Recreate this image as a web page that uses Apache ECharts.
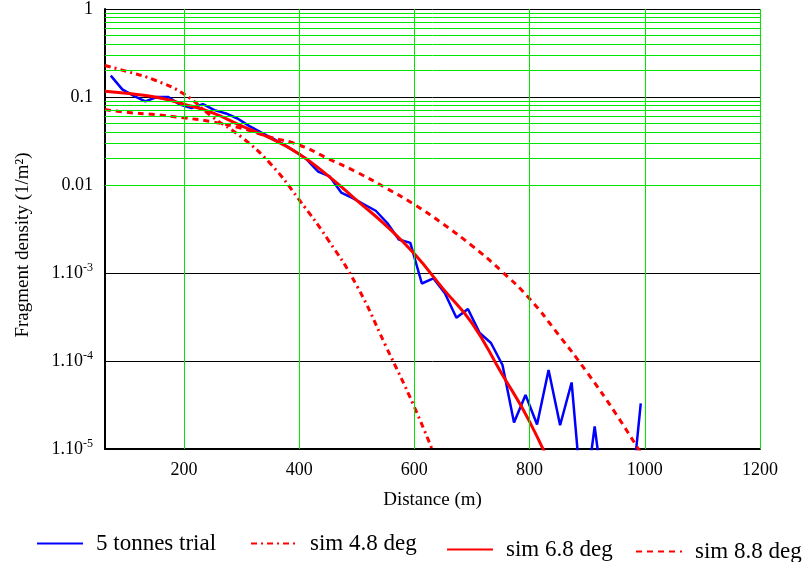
<!DOCTYPE html>
<html>
<head>
<meta charset="utf-8">
<script src="https://cdn.jsdelivr.net/npm/echarts@6/dist/echarts.min.js"></script>
<style>
  html, body { margin: 0; padding: 0; background: #fff; }
  #chart { width: 803px; height: 562px; }
</style>
</head>
<body>
<div id="chart"></div>
<script>
// measured trial (5 tonnes)
const trialX = [73, 93, 113, 133, 153, 173, 193, 213, 233, 253, 273, 293, 313, 333, 353, 373, 393, 413, 433, 453,
  473, 493, 513, 533, 553, 573, 593, 613, 633, 653, 673, 693, 713, 733, 753, 773, 793, 813, 833, 853,
  873, 893, 913, 933, 953, 973, 993];
const trialY = [0.175, 0.122, 0.103, 0.089, 0.1, 0.1, 0.082, 0.075, 0.083, 0.071, 0.065, 0.057, 0.047, 0.04, 0.034, 0.029, 0.024, 0.0196, 0.0142, 0.0125,
  0.0082, 0.0071, 0.006, 0.0051, 0.0037, 0.0024, 0.0022, 7.6e-4, 8.7e-4, 5.9e-4, 3.1e-4, 3.9e-4, 2.1e-4, 1.6e-4, 9.0e-5, 2.0e-5, 4.1e-5, 1.9e-5, 7.9e-5, 1.86e-5,
  5.7e-5, 1.8e-6, 1.8e-5, 1.8e-6, 1.8e-6, 1.6e-6, 3.3e-5];

// simulations
const sim48X = [63, 100, 150, 200, 250, 300, 350, 400, 450, 500, 550, 600, 640];
const sim48Y = [0.228, 0.196, 0.155, 0.108, 0.059, 0.035, 0.0175, 0.0068, 0.0024, 7.2e-4, 1.5e-4, 3.0e-5, 7e-6];

const sim68X = [63, 100, 150, 200, 250, 300, 350, 400, 450, 500, 550, 600, 650, 700, 750, 800, 850];
const sim68Y = [0.116, 0.11, 0.1, 0.083, 0.066, 0.047, 0.034, 0.0225, 0.0128, 0.0067, 0.0035, 0.00165, 6.6e-4, 2.7e-4, 7.5e-5, 2.05e-5, 4e-6];

const sim88X = [63, 100, 150, 200, 250, 300, 350, 400, 450, 500, 550, 600, 650, 700, 750, 800, 850, 900, 950, 1000];
const sim88Y = [0.072, 0.067, 0.063, 0.058, 0.052, 0.044, 0.035, 0.0285, 0.02, 0.014, 0.0093, 0.006, 0.0036, 0.00204, 0.00107, 5.1e-4, 2.0e-4, 7.4e-5, 2.5e-5, 7.6e-6];

const xTicks = [200, 400, 600, 800, 1000, 1200];
const yTickValues = [1e-5, 1e-4, 1e-3, 0.01, 0.1, 1];
const yTickText = ['1.10{sup|-5}', '1.10{sup|-4}', '1.10{sup|-3}', '0.01', '0.1', '1'];

const serif = 'Liberation Serif';

function pairs(xs, ys) {
  return xs.map((x, i) => [x, ys[i]]);
}

// minor grid lines 2..9 per decade
const minorLines = [];
for (let e = -5; e < 0; e++) {
  for (let m = 2; m <= 9; m++) {
    minorLines.push({ yAxis: m * Math.pow(10, e) });
  }
}
const vLines = xTicks.map(v => ({ xAxis: v }));

function legendAt(name, left, top) {
  return {
    data: [name],
    left: left,
    top: top,
    itemWidth: 46,
    itemHeight: 14,
    itemStyle: { opacity: 0 },
    textStyle: { fontFamily: serif, fontSize: 23, color: '#000', padding: [0, 0, 0, 8] }
  };
}

const chart = echarts.init(document.getElementById('chart'));
chart.setOption({
  animation: false,
  backgroundColor: '#fff',
  grid: { left: 105, right: 43, top: 9, bottom: 113, containLabel: false },
  legend: [
    legendAt('5 tonnes trial', 31, 527),
    legendAt('sim 4.8 deg', 245, 527),
    legendAt('sim 6.8 deg', 441, 533),
    legendAt('sim 8.8 deg', 630, 535)
  ],
  xAxis: {
    type: 'value',
    min: 63,
    max: 1200,
    name: 'Distance (m)',
    nameLocation: 'middle',
    nameGap: 42,
    nameTextStyle: { fontFamily: serif, fontSize: 19, color: '#000' },
    axisLine: { lineStyle: { color: '#000', width: 2 } },
    axisTick: { show: false },
    axisLabel: {
      customValues: xTicks,
      fontFamily: serif,
      fontSize: 18,
      color: '#000',
      margin: 12,
      formatter: v => String(v)
    },
    splitLine: { show: false }
  },
  yAxis: {
    type: 'log',
    logBase: 10,
    min: 1e-5,
    max: 1,
    name: 'Fragment density (1/m²)',
    nameLocation: 'middle',
    nameGap: 72,
    nameTextStyle: { fontFamily: serif, fontSize: 19, color: '#000', padding: [0, 32, 0, 0] },
    axisLine: { lineStyle: { color: '#000', width: 2 } },
    axisTick: { show: false },
    axisLabel: {
      fontFamily: serif,
      fontSize: 18,
      color: '#000',
      margin: 12,
      formatter: function (v) {
        for (let i = 0; i < yTickValues.length; i++) {
          if (Math.abs(Math.log10(v) - Math.log10(yTickValues[i])) < 1e-6) return yTickText[i];
        }
        return '';
      },
      rich: {
        sup: { fontFamily: serif, fontSize: 12, color: '#000', verticalAlign: 'bottom', padding: [0, 0, 10, 0] }
      }
    },
    splitLine: { show: true, lineStyle: { color: '#000', width: 1 } }
  },
  series: [
    {
      name: 'grid',
      type: 'line',
      data: [],
      z: 1,
      silent: true,
      markLine: {
        silent: true,
        symbol: 'none',
        label: { show: false },
        lineStyle: { color: '#00e600', width: 1, type: 'solid' },
        data: minorLines.concat(vLines)
      }
    },
    {
      name: '5 tonnes trial',
      type: 'line',
      data: pairs(trialX, trialY),
      symbol: 'none',
      color: '#0000ff',
      lineStyle: { width: 2.5, color: '#0000ff' },
      z: 3
    },
    {
      name: 'sim 4.8 deg',
      type: 'line',
      data: pairs(sim48X, sim48Y),
      smooth: true,
      symbol: 'none',
      color: '#ff0000',
      lineStyle: { width: 3, color: '#ff0000', type: [6, 4, 2, 4] },
      z: 4
    },
    {
      name: 'sim 6.8 deg',
      type: 'line',
      data: pairs(sim68X, sim68Y),
      smooth: true,
      symbol: 'none',
      color: '#ff0000',
      lineStyle: { width: 3, color: '#ff0000' },
      z: 4
    },
    {
      name: 'sim 8.8 deg',
      type: 'line',
      data: pairs(sim88X, sim88Y),
      smooth: true,
      symbol: 'none',
      color: '#ff0000',
      lineStyle: { width: 3, color: '#ff0000', type: [6, 5] },
      z: 4
    }
  ]
});
</script>
</body>
</html>
